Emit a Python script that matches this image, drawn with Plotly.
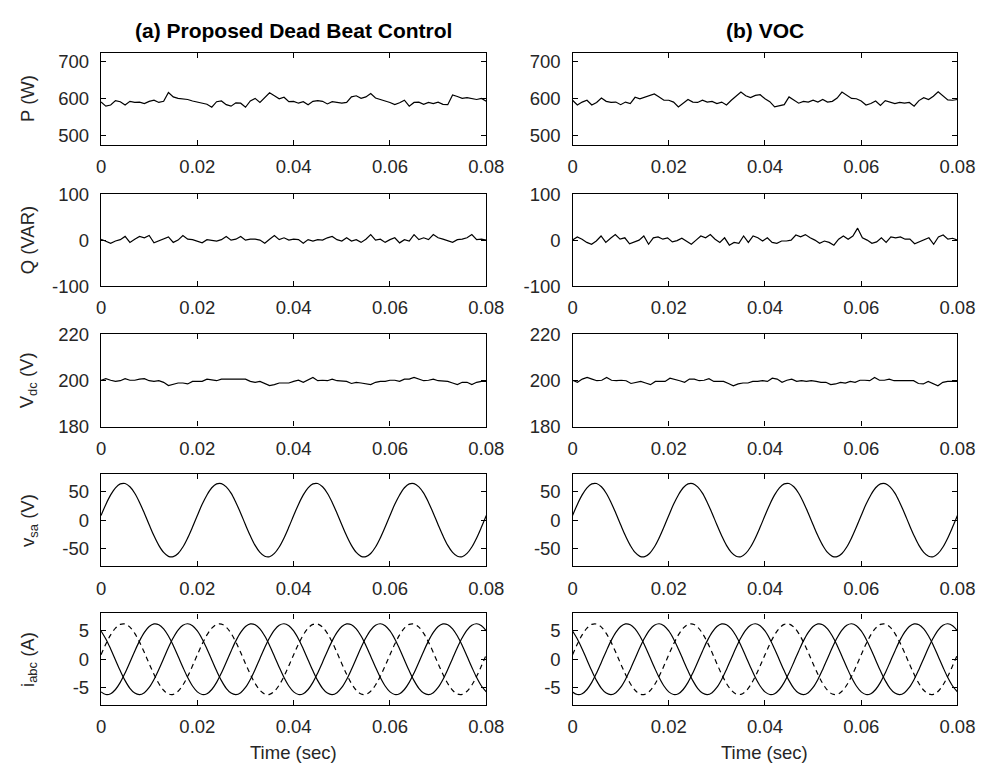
import numpy as np
import plotly.graph_objects as go

# ---------------- data ----------------
P_a = [591, 580, 583, 595, 592, 583, 593, 590, 591, 587, 593, 596, 590, 593, 617, 605, 601, 600, 598, 594,
       591, 590, 585, 577, 592, 594, 584, 580, 589, 588, 577, 594, 601, 590, 602, 616, 608, 600, 604, 592,
       593, 588, 592, 584, 593, 595, 593, 586, 592, 591, 588, 590, 605, 608, 601, 605, 614, 602, 597, 594,
       590, 584, 589, 596, 580, 590, 591, 585, 590, 587, 591, 585, 584, 610, 606, 601, 603, 601, 598, 601, 593]
P_b = [596, 583, 591, 596, 583, 590, 602, 593, 590, 591, 584, 591, 587, 604, 600, 604, 609, 613, 605, 596,
       596, 591, 578, 587, 598, 591, 590, 596, 591, 593, 587, 591, 583, 596, 606, 618, 608, 603, 609, 611,
       600, 592, 578, 581, 584, 605, 597, 588, 593, 591, 596, 591, 598, 591, 593, 602, 618, 610, 601, 600,
       594, 583, 587, 594, 582, 595, 591, 587, 590, 588, 590, 580, 595, 603, 598, 607, 619, 608, 597, 596, 598]
Q_a = [2, -3, -7, -2, 1, 8, -5, 2, 8, 5, 10, -6, -2, 2, 7, -5, 0, 10, 2, 1,
       -2, -6, 1, 0, -2, 1, 8, 0, 2, 8, 0, 2, 2, 0, -7, 2, 10, 1, 5, 0,
       2, 1, -7, 1, -2, 1, 0, 5, 8, 1, -2, 5, -2, 1, -5, 2, 12, 0, 2, -5,
       1, 5, -6, 1, -2, 12, 1, 5, 1, 12, 5, 2, -2, -5, 1, 2, 5, 12, 1, 2, 0]
Q_b = [0, 7, 2, -5, -9, -2, 9, -5, 4, 12, 2, 5, -8, -4, 0, 9, -9, 5, 7, 2,
       5, -4, -1, 4, -2, -9, 0, 9, 5, 12, 2, -5, 5, -11, -5, -7, 9, -5, 9, 5,
       -2, 5, -5, -7, -2, -2, 0, 11, 7, 12, 5, 0, -7, -2, -5, -11, 2, 9, 2, 9,
       26, 5, 0, -7, -4, 5, -5, 7, 5, 7, 2, 2, -8, -4, 0, 5, -9, 7, 11, 2, 4, 0]
Vdc_a = [200.1, 200.8, 200.1, 199.6, 199.9, 200.8, 200.1, 200.1, 200.6, 200.8, 199.9, 199.6, 199.9, 199.2,
         197.8, 198.2, 198.9, 198.9, 198.5, 199.6, 199.6, 199.6, 200.6, 200.1, 199.9, 200.6, 200.6, 200.8,
         200.6, 200.6, 200.6, 199.6, 199.2, 199.6, 198.7, 197.8, 198.2, 198.9, 198.9, 198.9, 199.6, 200.1,
         199.2, 200.1, 201.3, 199.9, 200.1, 199.9, 200.6, 199.9, 199.9, 199.6, 198.7, 199.2, 198.9, 198.7,
         198.2, 199.2, 199.6, 199.6, 200.1, 200.1, 199.6, 200.6, 200.6, 201.3, 200.6, 199.9, 200.1, 200.6,
         199.9, 199.9, 199.6, 198.9, 198.2, 199.2, 199.2, 198.2, 199.2, 199.6, 199.6]
Vdc_b = [200.1, 199.2, 200.6, 201.3, 200.6, 199.9, 200.1, 201.3, 200.1, 199.9, 200.1, 199.9, 198.7, 199.2,
         199.6, 198.9, 198.2, 199.6, 199.6, 199.6, 201.0, 200.6, 199.9, 199.2, 200.6, 200.6, 199.9, 200.1,
         200.8, 199.6, 199.6, 199.6, 198.7, 197.7, 198.5, 198.9, 198.9, 199.6, 199.6, 199.9, 199.6, 201.0,
         200.6, 199.2, 200.1, 200.6, 199.6, 199.9, 199.6, 199.9, 199.6, 199.2, 199.2, 198.2, 198.5, 199.2,
         198.9, 199.6, 199.2, 200.1, 200.1, 199.9, 201.3, 200.1, 200.1, 200.6, 199.9, 199.9, 199.9, 199.9,
         199.9, 198.7, 198.5, 199.6, 198.5, 197.7, 199.2, 199.6, 199.6, 199.6]

v_sa = [8.0, 27.3, 43.8, 56.1, 62.9, 63.6, 57.9, 46.7, 30.8, 12.0, -8.0, -27.3, -43.8, -56.1, -62.9, -63.5, -57.9, -46.7, -30.8, -12.0,
        8.1, 27.4, 43.7, 56.2, 63.0, 63.5, 57.8, 46.8, 30.7, 12.1, -8.1, -27.2, -43.9, -56.0, -62.8, -63.6, -57.8, -46.6, -30.9, -12.1,
        8.0, 27.3, 43.8, 56.1, 62.9, 63.6, 57.9, 46.7, 30.8, 12.0, -8.0, -27.3, -43.8, -56.1, -62.9, -63.5, -57.9, -46.7, -30.8, -12.0,
        8.1, 27.4, 43.7, 56.2, 63.0, 63.5, 57.8, 46.8, 30.7, 12.1, -8.1, -27.2, -43.9, -56.0, -62.8, -63.6, -57.8, -46.6, -30.9, -12.1,
        8.0]
i_a = [0.78, 2.64, 4.25, 5.43, 6.09, 6.15, 5.61, 4.52, 2.99, 1.16, -0.78, -2.64, -4.25, -5.43, -6.09, -6.15, -5.61, -4.52, -2.99, -1.16,
       0.78, 2.64, 4.25, 5.43, 6.09, 6.15, 5.61, 4.52, 2.99, 1.16, -0.78, -2.64, -4.25, -5.43, -6.09, -6.15, -5.61, -4.52, -2.99, -1.16,
       0.78, 2.64, 4.25, 5.43, 6.09, 6.15, 5.61, 4.52, 2.99, 1.16, -0.78, -2.64, -4.25, -5.43, -6.09, -6.15, -5.61, -4.52, -2.99, -1.16,
       0.78, 2.64, 4.25, 5.43, 6.09, 6.15, 5.61, 4.52, 2.99, 1.16, -0.78, -2.64, -4.25, -5.43, -6.09, -6.15, -5.61, -4.52, -2.99, -1.16,
       0.78]
i_b = [-5.72, -6.18, -6.04, -5.30, -4.05, -2.40, -0.52, 1.41, 3.21, 4.69, 5.72, 6.18, 6.04, 5.30, 4.05, 2.40, 0.52, -1.41, -3.21, -4.69,
       -5.72, -6.18, -6.04, -5.30, -4.05, -2.40, -0.52, 1.41, 3.21, 4.69, 5.72, 6.18, 6.04, 5.30, 4.05, 2.40, 0.52, -1.41, -3.21, -4.69,
       -5.72, -6.18, -6.04, -5.30, -4.05, -2.40, -0.52, 1.41, 3.21, 4.69, 5.72, 6.18, 6.04, 5.30, 4.05, 2.40, 0.52, -1.41, -3.21, -4.69,
       -5.72, -6.18, -6.04, -5.30, -4.05, -2.40, -0.52, 1.41, 3.21, 4.69, 5.72, 6.18, 6.04, 5.30, 4.05, 2.40, 0.52, -1.41, -3.21, -4.69,
       -5.72]
i_c = [4.94, 3.54, 1.79, -0.13, -2.04, -3.75, -5.09, -5.93, -6.20, -5.85, -4.94, -3.54, -1.79, 0.13, 2.04, 3.75, 5.09, 5.93, 6.20, 5.85,
       4.94, 3.54, 1.79, -0.13, -2.04, -3.75, -5.09, -5.93, -6.20, -5.85, -4.94, -3.54, -1.79, 0.13, 2.04, 3.75, 5.09, 5.93, 6.20, 5.85,
       4.94, 3.54, 1.79, -0.13, -2.04, -3.75, -5.09, -5.93, -6.20, -5.85, -4.94, -3.54, -1.79, 0.13, 2.04, 3.75, 5.09, 5.93, 6.20, 5.85,
       4.94, 3.54, 1.79, -0.13, -2.04, -3.75, -5.09, -5.93, -6.20, -5.85, -4.94, -3.54, -1.79, 0.13, 2.04, 3.75, 5.09, 5.93, 6.20, 5.85,
       4.94]

x_ticks = [0, 0.02, 0.04, 0.06, 0.08]
x_tick_labels = ["0", "0.02", "0.04", "0.06", "0.08"]
y_ranges = [[475, 725], [-100, 100], [180, 220], [-80, 80], [-8, 8]]
y_ticks = [[500, 600, 700], [-100, 0, 100], [180, 200, 220], [-50, 0, 50], [-5, 0, 5]]
y_tick_labels = [["500", "600", "700"], ["-100", "0", "100"], ["180", "200", "220"],
                 ["-50", "0", "50"], ["-5", "0", "5"]]
y_labels = ["P (W)", "Q (VAR)", "V<sub>dc</sub> (V)", "v<sub>sa</sub> (V)", "i<sub>abc</sub> (A)"]
col_titles = ["<b>(a) Proposed Dead Beat Control</b>", "<b>(b) VOC</b>"]
x_title = "Time (sec)"

# ---------------- layout geometry ----------------
W, H = 993, 773
col_px = [(98.3, 492.7), (581.0, 975.0)]
row_px = [(42.7, 137.7), (188.3, 282.7), (332.3, 427.3), (476.0, 570.7), (619.3, 713.3)]

FONT = "Liberation Sans, Arial, Helvetica, sans-serif"
TXT = "#262626"

fig = go.Figure()
layout = dict()

def t_of(arr):
    return np.linspace(0, 0.08, len(arr))

series = {
    (0, 0): [(P_a, "solid", "linear")], (0, 1): [(P_b, "solid", "linear")],
    (1, 0): [(Q_a, "solid", "linear")], (1, 1): [(Q_b, "solid", "linear")],
    (2, 0): [(Vdc_a, "solid", "linear")], (2, 1): [(Vdc_b, "solid", "linear")],
    (3, 0): [(v_sa, "solid", "spline")], (3, 1): [(v_sa, "solid", "spline")],
    (4, 0): [(i_b, "solid", "spline"), (i_c, "solid", "spline"), (i_a, "5px,4px", "spline")],
    (4, 1): [(i_b, "solid", "spline"), (i_c, "solid", "spline"), (i_a, "5px,4px", "spline")],
}

idx = 0
for r in range(5):
    for c in range(2):
        idx += 1
        xa = "x" if idx == 1 else f"x{idx}"
        ya = "y" if idx == 1 else f"y{idx}"
        for vals, dash, shape in series[(r, c)]:
            fig.add_trace(go.Scatter(x=t_of(vals), y=vals, mode="lines", xaxis=xa, yaxis=ya,
                                     line=dict(color="black", width=1.2, dash=dash, shape=shape),
                                     showlegend=False, hoverinfo="skip"))
        x0, x1 = col_px[c]
        y0, y1 = row_px[r]
        common = dict(showline=True, linecolor="black", linewidth=1.4, mirror="ticks",
                      ticks="inside", ticklen=5, tickwidth=1, tickcolor="black",
                      showgrid=False, zeroline=False, fixedrange=True,
                      tickfont=dict(family=FONT, size=18.5, color=TXT))
        layout["xaxis" if idx == 1 else f"xaxis{idx}"] = dict(
            domain=[x0 / W, x1 / W], anchor=ya, range=[0, 0.08],
            tickvals=x_ticks, ticktext=x_tick_labels, ticklabelstandoff=5, **common)
        layout["yaxis" if idx == 1 else f"yaxis{idx}"] = dict(
            domain=[1 - y1 / H, 1 - y0 / H], anchor=xa, range=y_ranges[r],
            tickvals=y_ticks[r], ticktext=y_tick_labels[r], ticklabelstandoff=7, **common)

annotations = []
for c in range(2):
    x0, x1 = col_px[c]
    annotations.append(dict(text=col_titles[c], x=(x0 + x1) / 2 / W, y=1 - 20 / H,
                            xref="paper", yref="paper", showarrow=False,
                            xanchor="center", yanchor="middle",
                            font=dict(family=FONT, size=21, color="black")))
    annotations.append(dict(text=x_title, x=(x0 + x1) / 2 / W, y=1 - 762 / H,
                            xref="paper", yref="paper", showarrow=False,
                            xanchor="center", yanchor="middle",
                            font=dict(family=FONT, size=18.5, color=TXT)))
for r in range(5):
    y0, y1 = row_px[r]
    annotations.append(dict(text=y_labels[r], x=10 / W, y=1 - (y0 + y1) / 2 / H,
                            xref="paper", yref="paper", showarrow=False, textangle=-90,
                            xanchor="left", yanchor="middle",
                            font=dict(family=FONT, size=18.5, color=TXT)))

fig.update_layout(width=W, height=H, margin=dict(l=0, r=0, t=0, b=0),
                  paper_bgcolor="white", plot_bgcolor="white",
                  annotations=annotations, **layout)

fig.write_html("out.html", config={"displayModeBar": False},
               post_script="document.body.style.margin='0';document.body.style.padding='0';"
                           "document.body.style.overflow='hidden';")
